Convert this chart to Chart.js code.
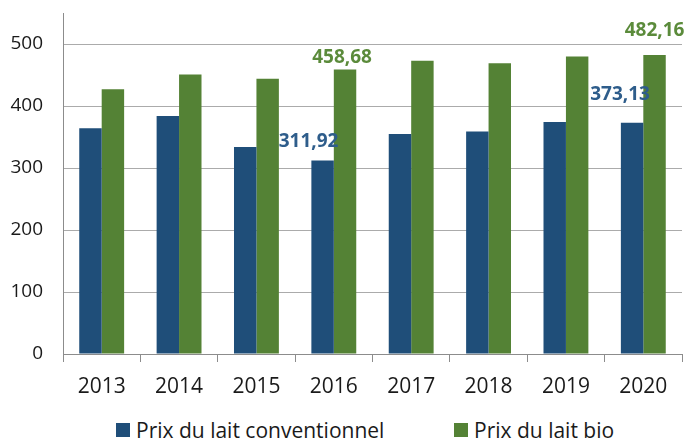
<!DOCTYPE html>
<html>
<head>
<meta charset="utf-8">
<script src="https://cdn.jsdelivr.net/npm/chart.js@4/dist/chart.umd.min.js"></script>
<style>
    html, body { margin: 0; padding: 0; background: #fff; }
    #wrap { position: relative; width: 685px; height: 440px; }
    #chart-box { position: absolute; left: 0; top: 0; width: 685px; height: 400px; }
    .leg { position: absolute; top: 416px; display: flex; align-items: center;
           font-family: 'Open Sans', sans-serif; font-size: 21px; color: #1a1a1a; white-space: nowrap; }
    .leg .sw { width: 14px; height: 14px; margin-right: 6px; }
</style>
</head>
<body>
<div id="wrap">
    <div id="chart-box"><canvas id="c"></canvas></div>
    <div class="leg" style="left:116px"><span class="sw" style="background:#1f4e79"></span>Prix du lait conventionnel</div>
    <div class="leg" style="left:454px"><span class="sw" style="background:#548235"></span>Prix du lait bio</div>
</div>
<script>
// --- Data ---
const years = ['2013', '2014', '2015', '2016', '2017', '2018', '2019', '2020'];
const prixConventionnel = [364, 384, 334, 311.92, 355, 359, 374, 373.13];
const prixBio = [427, 451, 444, 458.68, 473, 469, 480, 482.16];
// Only a few bars carry a printed value in the source chart.
const labelsConventionnel = [null, null, null, '311,92', null, null, null, '373,13'];
const labelsBio = [null, null, null, '458,68', null, null, null, '482,16'];
const yTicks = [0, 100, 200, 300, 400, 500];

// --- Colors ---
const C_CONV = '#1f4e79';
const C_BIO = '#548235';
const C_CONV_TXT = '#2e5d8b';
const C_BIO_TXT = '#5b8b3b';

// Hand-placed offsets of the value labels relative to the bar top (as in the original).
const labelNudge = [
    { 3: [-14, -19], 7: [-12, -28] },
    { 3: [-3, -12], 7: [0, -24] },
];

const valueLabelPlugin = {
    id: 'valueLabels',
    afterDatasetsDraw(chart) {
        const { ctx } = chart;
        ctx.save();
        ctx.font = "bold 19px 'Open Sans', sans-serif";
        ctx.textAlign = 'center';
        ctx.textBaseline = 'middle';
        chart.data.datasets.forEach((ds, di) => {
            const meta = chart.getDatasetMeta(di);
            ctx.fillStyle = ds._labelColor;
            meta.data.forEach((bar, i) => {
                const txt = ds._labels[i];
                if (txt == null) return;
                const [dx, dy] = labelNudge[di][i] || [0, -12];
                ctx.fillText(txt, bar.x + dx, bar.y + dy);
            });
        });
        ctx.restore();
    },
};

new Chart(document.getElementById('c'), {
    type: 'bar',
    data: {
        labels: years,
        datasets: [
            { label: 'Prix du lait conventionnel', data: prixConventionnel, backgroundColor: C_CONV,
              _labels: labelsConventionnel, _labelColor: C_CONV_TXT },
            { label: 'Prix du lait bio', data: prixBio, backgroundColor: C_BIO,
              _labels: labelsBio, _labelColor: C_BIO_TXT },
        ],
    },
    options: {
        responsive: true,
        maintainAspectRatio: false,
        animation: false,
        layout: { padding: { top: 13, right: 3, bottom: 3, left: 0 } },
        datasets: { bar: { categoryPercentage: 0.58, barPercentage: 1.0 } },
        plugins: { legend: { display: false }, tooltip: { enabled: false } },
        scales: {
            x: {
                afterFit: (s) => { s.height = 43; },
                grid: { drawOnChartArea: false, offset: true, tickLength: 8, color: '#8c8c8c' },
                border: { color: '#8c8c8c' },
                ticks: { color: '#1a1a1a', padding: 12, font: { family: "'Open Sans', sans-serif", size: 21 } },
            },
            y: {
                min: 0,
                max: 550,
                afterBuildTicks: (s) => { s.ticks = yTicks.map((v) => ({ value: v })); },
                // fixed axis width, and no extra room reserved for labels at the ends
                afterFit: (s) => { s.width = 63; s.paddingTop = 0; s.paddingBottom = 0; },
                grid: { color: '#ababab', drawTicks: false },
                border: { color: '#8c8c8c' },
                ticks: { color: '#1a1a1a', padding: 20, font: { family: "'Open Sans', sans-serif", size: 19 } },
            },
        },
    },
    plugins: [valueLabelPlugin],
});
</script>
</body>
</html>
